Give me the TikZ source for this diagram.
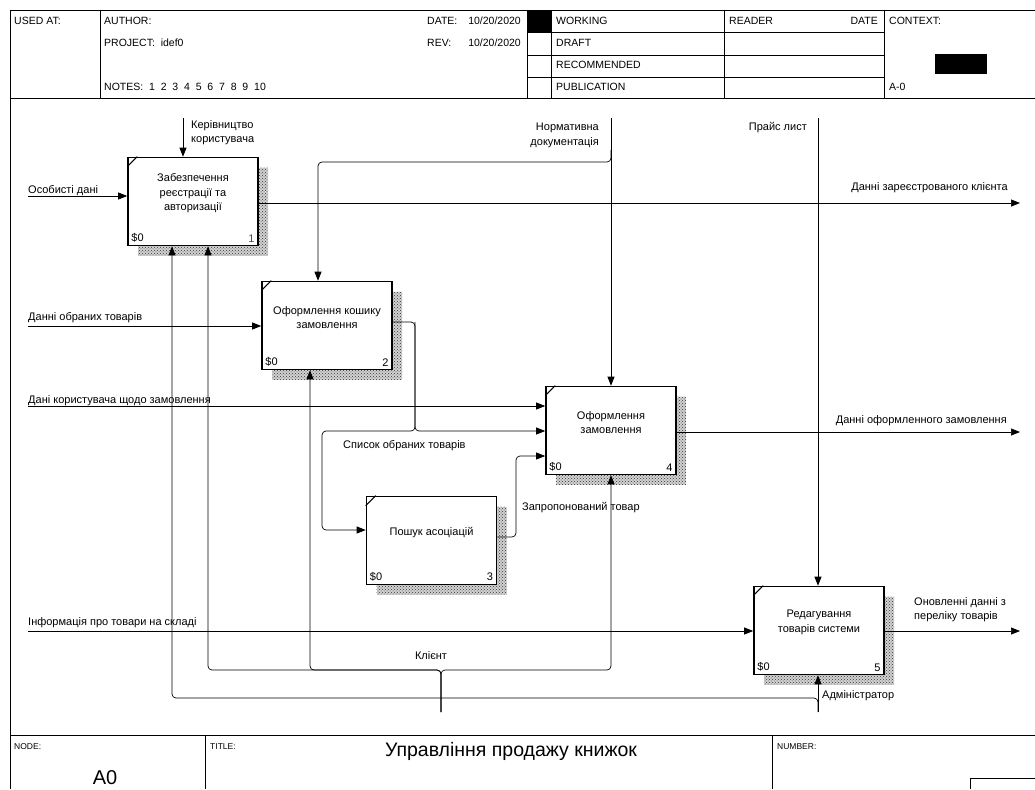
\documentclass[tikz,border=0pt]{standalone}
\usepackage{fontspec}
\setmainfont{Liberation Sans}
\usepackage{tikz}
\usetikzlibrary{arrows.meta,positioning,calc,patterns}
\definecolor{numblue}{RGB}{40,80,170}
\newcommand{\lblfont}{\fontsize{11}{14.5}\selectfont}
\newcommand{\hdfont}{\fontsize{10.5}{12}\selectfont}
\newcommand{\actbox}[4]{%
  \fill[hatch] ($(#2)+(-55,-34)$) rectangle ($(#2)+(75,54)$);
  \node[act] (#1) at (#2) {};
  \draw[line width=1pt] ([yshift=-10pt]#1.north west) -- ([xshift=10pt]#1.north west);
  \node[acttxt] (#1t) at ([yshift=8pt]#1.center) {#3};
  \node[lbl,anchor=south west] (#1c) at (#1.south west) {\$0};
  \node[lbl,anchor=south east] (#1n) at (#1.south east) {#4};}

\begin{document}
\begin{tikzpicture}[x=1pt,y=-1pt,>={Triangle[length=9pt,width=7pt]},
 act/.style={draw,line width=1.6pt,fill=white,minimum width=130pt,minimum height=88pt,inner sep=0pt},
 acttxt/.style={align=center,font=\lblfont,inner sep=0pt},
 lbl/.style={font=\lblfont,inner sep=4pt},
 hatch/.style={preaction={fill=gray!35},pattern=crosshatch dots,pattern color=black!80},
 flow/.style={->,line width=0.7pt,rounded corners=4pt},
 hd/.style={font=\hdfont,inner sep=0pt,anchor=base west},
 frame/.style={line width=0.9pt}]
\useasboundingbox (0,0) rectangle (1035,789);
% frame
\draw[frame] (10,789) -- (10,10) -- (1035,10);
\draw[frame] (10,98) -- (1035,98);
\draw[frame] (10,735) -- (1035,735);
\foreach \x in {100,527,551,724,884} \draw[frame] (\x,10) -- (\x,98);
\foreach \y in {32,55,77} \draw[frame] (527,\y) -- (884,\y);
\fill (527,10) rectangle (551,32);
\fill (935,54) rectangle (987,74);
\draw[frame] (205,735) -- (205,789);
\draw[frame] (772,735) -- (772,789);
\draw[frame] (970,789) -- (970,778) -- (1035,778);
\node[hd] (usedat) at (14,25) {USED AT:};
\node[hd] (author) at (104,25) {AUTHOR:};
\node[hd] (project) at (104,47) {PROJECT:\ \ idef0};
\node[hd] (notes) at (104,91) {NOTES:\ \ 1\ \ 2\ \ 3\ \ 4\ \ 5\ \ 6\ \ 7\ \ 8\ \ 9\ \ 10};
\node[hd] (date) at (427,25) {DATE:};
\node[hd,anchor=base east] (dateval) at (521,25) {10/20/2020};
\node[hd] (rev) at (427,47) {REV:};
\node[hd,anchor=base east] (revval) at (521,47) {10/20/2020};
\node[hd] (working) at (556,25) {WORKING};
\node[hd] (draft) at (556,47) {DRAFT};
\node[hd] (recom) at (556,69) {RECOMMENDED};
\node[hd] (public) at (556,91) {PUBLICATION};
\node[hd] (reader) at (729,25) {READER};
\node[hd,anchor=base east] (rdate) at (878,25) {DATE};
\node[hd] (context) at (889,25) {CONTEXT:};
\node[hd] (ctxnode) at (889,91) {A-0};
\node[hd,font=\fontsize{8.5}{10}\selectfont] (nodelbl) at (14,749) {NODE:};
\node[hd,font=\fontsize{8.5}{10}\selectfont] (titlelbl) at (210,749) {TITLE:};
\node[hd,font=\fontsize{8.5}{10}\selectfont] (numlbl) at (777,749) {NUMBER:};
\node[font=\fontsize{19.5}{21}\selectfont] (title) at (511,751) {Управління продажу книжок};
\node[font=\fontsize{20}{22}\selectfont] (nodeid) at (105,778) {A0};
% activities
\actbox{b1}{193,201.5}{Забезпечення\\реєстрації та\\авторизації}{\color{numblue}1}
\actbox{b2}{327,325.5}{Оформлення кошику\\замовлення}{2}
\actbox{b4}{611,430.5}{Оформлення\\замовлення}{4}
\actbox{b3}{431.5,540.5}{Пошук асоціацій}{3}
\actbox{b5}{819,630.5}{Редагування\\товарів системи}{5}
% inputs
\coordinate (in1) at (28,196);
\coordinate (in2) at (28,326);
\coordinate (in3) at (28,406);
\coordinate (in4) at (28,631);
\draw[flow] (in1) -- (in1 -| b1.west);
\draw[flow] (in2) -- (in2 -| b2.west);
\draw[flow] (in3) -- (in3 -| b4.west);
\draw[flow] (in4) -- (in4 -| b5.west);
\node[lbl,anchor=base west,inner sep=0pt] (in1l) at (28,193) {Особисті дані};
\node[lbl,anchor=base west,inner sep=0pt] (in2l) at (28,320) {Данні обраних товарів};
\node[lbl,anchor=base west,inner sep=0pt] (in3l) at (28,403) {Дані користувача щодо замовлення};
\node[lbl,anchor=base west,inner sep=0pt] (in4l) at (28,625) {Інформація про товари на складі};
% controls
\coordinate (ct1) at (183,118);
\coordinate (ct2) at (611,118);
\coordinate (ct3) at (818,118);
\draw[flow] (ct1) -- (ct1 |- b1.north);
\draw[flow] (ct2) -- (ct2 |- b4.north);
\draw[flow] (ct3) -- (ct3 |- b5.north);
\coordinate (nd1) at (611,150);
\coordinate (nd2) at (611,162);
\coordinate (nd3) at (318,162);
\draw[flow] (nd1) -- (nd2) -- (nd3) -- (nd3 |- b2.north);
\node[lbl,anchor=north west,align=left,inner sep=0pt] (ct1l) at (191,120) {Керівництво\\користувача};
\node[lbl,anchor=north east,align=right,inner sep=0pt] (ct2l) at (599,123) {Нормативна\\документація};
\node[lbl,anchor=base east,inner sep=0pt] (ct3l) at (807,131) {Прайс лист};
% outputs
\coordinate (out1) at (1020,203);
\coordinate (out2) at (1020,432);
\coordinate (out3) at (1020,631);
\draw[flow] (b1.east |- out1) -- (out1);
\draw[flow] (b4.east |- out2) -- (out2);
\draw[flow] (b5.east |- out3) -- (out3);
\node[lbl,anchor=base east,inner sep=0pt] (out1l) at (1008,190) {Данні зареєстрованого клієнта};
\node[lbl,anchor=base east,inner sep=0pt] (out2l) at (1007,423) {Данні оформленного замовлення};
\node[lbl,anchor=north west,align=left,inner sep=0pt] (out3l) at (914,597) {Оновленні данні з\\переліку товарів};
% internal links
\coordinate (so1) at (415,322);
\coordinate (so2) at (415,431);
\coordinate (so3) at (322,431);
\coordinate (so4) at (322,530);
\draw[flow] (b2.east |- so1) -- (so1) -- (so2) -- (so2 -| b4.west);
\draw[flow] (so1) -- (so2) -- (so3) -- (so4) -- (so4 -| b3.west);
\node[lbl,anchor=base west,inner sep=0pt] (sol) at (343,448) {Список обраних товарів};
\coordinate (zp1) at (516,537);
\coordinate (zp2) at (516,456);
\draw[flow] (b3.east |- zp1) -- (zp1) -- (zp2) -- (zp2 -| b4.west);
\node[lbl,anchor=base west,inner sep=0pt] (zpl) at (522,510) {Запропонований товар};
% mechanisms
\coordinate (kl0) at (441,712);
\coordinate (kl1) at (441,670);
\coordinate (k1) at (208,670);
\coordinate (k2) at (310,670);
\coordinate (k3) at (611,670);
\draw[flow] (kl0) -- (kl1) -- (k1) -- (k1 |- b1.south);
\draw[flow] (kl0) -- (kl1) -- (k2) -- (k2 |- b2.south);
\draw[flow] (kl0) -- (kl1) -- (k3) -- (k3 |- b4.south);
\node[lbl,inner sep=0pt] (kll) at (431,656) {Клієнт};
\coordinate (ad0) at (818,712);
\coordinate (ad1) at (818,698);
\coordinate (ad2) at (172,698);
\draw[flow] (ad0) -- (ad0 |- b5.south);
\draw[flow] (ad0) -- (ad1) -- (ad2) -- (ad2 |- b1.south);
\node[lbl,anchor=base west,inner sep=0pt] (adl) at (822,698) {Адміністратор};
\end{tikzpicture}
\end{document}
